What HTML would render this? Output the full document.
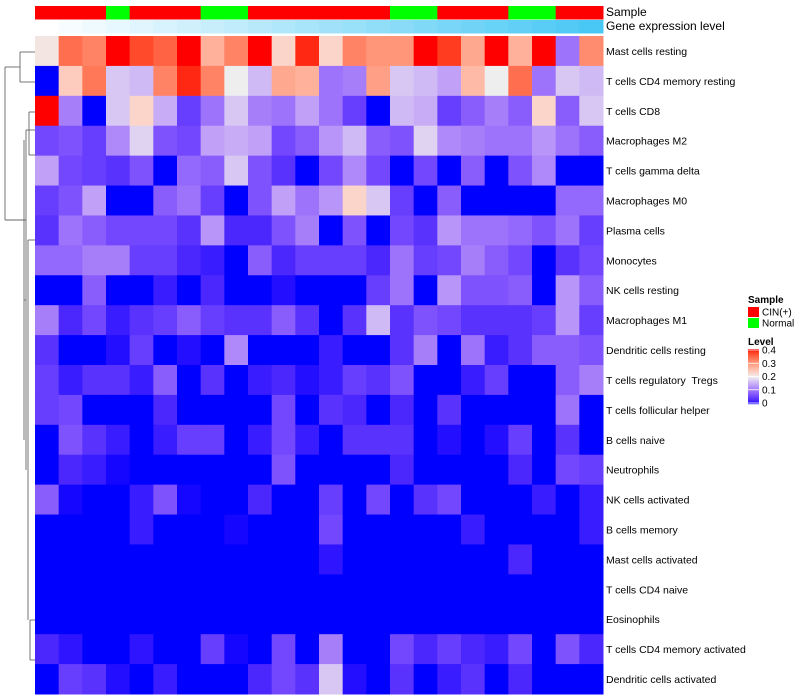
<!DOCTYPE html>
<html><head><meta charset="utf-8"><style>
body{margin:0;background:#fff;font-family:"Liberation Sans",sans-serif;}
svg{display:block}
</style></head><body>
<svg id="chart" width="800" height="700" xmlns="http://www.w3.org/2000/svg"></svg>
<script>
const rowLabels = ["Mast cells resting","T cells CD4 memory resting","T cells CD8","Macrophages M2","T cells gamma delta","Macrophages M0","Plasma cells","Monocytes","NK cells resting","Macrophages M1","Dendritic cells resting","T cells regulatory  Tregs","T cells follicular helper","B cells naive","Neutrophils","NK cells activated","B cells memory","Mast cells activated","T cells CD4 naive","Eosinophils","T cells CD4 memory activated","Dendritic cells activated"];
const sampleGroups = ["CIN","CIN","CIN","Normal","CIN","CIN","CIN","Normal","Normal","CIN","CIN","CIN","CIN","CIN","CIN","Normal","Normal","CIN","CIN","CIN","Normal","Normal","CIN","CIN"];
const geneLevel = [0,1,2,3,4,5,6,7,8,9,10,11,12,13,14,15,16,17,18,19,20,21,22,23];
const values = [
[0.21,0.34,0.32,0.4,0.37,0.35,0.4,0.27,0.32,0.4,0.23,0.39,0.23,0.32,0.3,0.3,0.4,0.38,0.28,0.4,0.27,0.4,0.1,0.31],
[0,0.24,0.33,0.17,0.16,0.32,0.39,0.32,0.2,0.16,0.28,0.27,0.1,0.11,0.29,0.17,0.16,0.14,0.26,0.2,0.34,0.1,0.17,0.16],
[0.4,0.11,0,0.17,0.23,0.15,0.05,0.1,0.17,0.11,0.1,0.14,0.1,0.05,0,0.16,0.15,0.05,0.08,0.11,0.08,0.23,0.08,0.17],
[0.06,0.07,0.05,0.12,0.18,0.07,0.06,0.14,0.15,0.14,0.06,0.08,0.13,0.16,0.08,0.07,0.18,0.12,0.11,0.1,0.1,0.13,0.1,0.08],
[0.14,0.06,0.05,0.04,0.07,0,0.09,0.08,0.17,0.07,0.04,0,0.06,0.12,0.06,0,0.06,0,0.08,0,0.07,0.12,0,0],
[0.05,0.07,0.14,0,0,0.08,0.1,0.05,0,0.07,0.14,0.1,0.13,0.23,0.17,0.05,0,0.08,0,0,0,0,0.09,0.09],
[0.04,0.1,0.08,0.06,0.06,0.06,0.04,0.13,0.03,0.03,0.07,0.11,0,0.07,0,0.06,0.04,0.13,0.1,0.1,0.09,0.07,0.1,0.05],
[0.09,0.09,0.11,0.11,0.05,0.05,0.03,0.02,0,0.08,0.03,0.05,0.05,0.05,0.03,0.1,0.05,0.06,0.11,0.08,0.06,0,0.04,0.06],
[0,0,0.08,0,0,0.02,0,0.03,0,0,0.01,0,0,0,0.05,0.1,0,0.13,0.07,0.07,0.08,0,0.13,0.08],
[0.11,0.03,0.06,0.02,0.04,0.05,0.08,0.05,0.04,0.04,0.08,0.04,0,0.04,0.16,0.04,0.07,0.06,0.04,0.04,0.04,0.05,0.13,0.05],
[0.04,0,0,0.01,0.05,0,0.01,0,0.12,0,0,0,0.02,0,0,0.04,0.11,0,0.1,0.02,0.04,0.08,0.08,0.07],
[0.05,0.02,0.04,0.04,0.02,0.08,0,0.04,0,0.02,0.03,0.01,0.02,0.05,0.04,0.07,0,0,0.02,0.05,0,0,0.08,0.11],
[0.05,0.06,0,0,0,0.03,0,0,0,0,0.06,0,0.04,0.03,0,0.03,0,0.04,0,0,0,0,0.1,0],
[0,0.07,0.04,0.02,0,0.02,0.05,0.05,0,0.02,0.06,0.02,0,0.04,0.04,0.04,0,0.01,0,0.01,0.05,0,0.04,0],
[0,0.03,0.02,0.005,0,0,0,0,0,0,0.07,0,0,0,0,0.03,0,0,0,0,0.03,0,0.06,0.05],
[0.08,0.005,0,0,0.02,0.07,0.005,0,0,0.03,0,0,0.05,0,0.06,0,0.04,0.06,0,0,0,0.02,0,0.02],
[0,0,0,0,0.02,0,0,0,0.005,0,0,0,0.06,0,0,0,0,0,0.02,0,0,0,0,0.02],
[0,0,0,0,0,0,0,0,0,0,0,0,0.015,0,0,0,0,0,0,0,0.03,0,0,0],
[0,0,0,0,0,0,0,0,0,0,0,0,0,0,0,0,0,0,0,0,0,0,0,0],
[0,0,0,0,0,0,0,0,0,0,0,0,0,0,0,0,0,0,0,0,0,0,0,0],
[0.03,0.015,0,0,0.015,0,0,0.05,0.005,0,0.06,0,0.11,0,0,0.06,0.03,0.05,0.03,0.02,0.06,0,0.07,0.03],
[0,0.05,0.04,0.01,0,0.02,0,0,0,0.03,0.06,0.04,0.17,0.01,0,0.04,0,0.02,0.04,0,0.03,0,0,0]
];
const legendTicks = [0,0.1,0.2,0.3,0.4];

const svg = document.getElementById('chart');
const NS = 'http://www.w3.org/2000/svg';
const X0 = 35, X1 = 603, Y0 = 36, Y1 = 694;
const nC = values[0].length, nR = values.length;
const cw = (X1 - X0) / nC, rh = (Y1 - Y0) / nR;
const xPos = c => X0 + c * cw;
const yPos = r => Y0 + r * rh;

function toLin(c){c/=255;return c<=0.04045?c/12.92:Math.pow((c+0.055)/1.055,2.4);}
function fromLin(c){c=c<=0.0031308?12.92*c:1.055*Math.pow(c,1/2.4)-0.055;return Math.max(0,Math.min(255,Math.round(c*255)));}
function rgb2lab(r,g,b){r=toLin(r);g=toLin(g);b=toLin(b);
 let x=(r*0.4124+g*0.3576+b*0.1805)/0.95047,y=r*0.2126+g*0.7152+b*0.0722,z=(r*0.0193+g*0.1192+b*0.9505)/1.08883;
 const f=t=>t>0.008856?Math.cbrt(t):7.787*t+16/116;
 x=f(x);y=f(y);z=f(z);return [116*y-16,500*(x-y),200*(y-z)];}
function lab2rgb(L,a,b){let y=(L+16)/116,x=a/500+y,z=y-b/200;
 const fi=t=>t*t*t>0.008856?t*t*t:(t-16/116)/7.787;
 x=fi(x)*0.95047;y=fi(y);z=fi(z)*1.08883;
 const r=x*3.2406+y*-1.5372+z*-0.4986,g=x*-0.9689+y*1.8758+z*0.0415,bb=x*0.0557+y*-0.2040+z*1.0570;
 return `rgb(${fromLin(r)},${fromLin(g)},${fromLin(bb)})`;}
const cBlue=rgb2lab(0,0,255), cWhite=rgb2lab(238,238,238), cRed=rgb2lab(255,0,0);
function colorOf(v){
 v=Math.max(0,Math.min(0.4,v));
 let a,b,t;
 if(v<=0.2){a=cBlue;b=cWhite;t=Math.pow(v/0.2,1.25);}else{a=cWhite;b=cRed;t=(v-0.2)/0.2;}
 return lab2rgb(a[0]+(b[0]-a[0])*t,a[1]+(b[1]-a[1])*t,a[2]+(b[2]-a[2])*t);
}
function el(tag, attrs){const e=document.createElementNS(NS,tag);for(const k in attrs)e.setAttribute(k,attrs[k]);svg.appendChild(e);return e;}

values.forEach((row,r)=>row.forEach((v,c)=>{
 const e=el('rect',{x:xPos(c),y:yPos(r),width:cw+0.5,height:rh+0.5,fill:colorOf(v)});
 
 
}));
sampleGroups.forEach((g,c)=>{
 const e=el('rect',{x:xPos(c),y:6,width:cw+0.5,height:13.5,fill:g==='CIN'?'#ff0000':'#00ff00'});
 
 
});
const gmax=Math.max(...geneLevel);
geneLevel.forEach((g,c)=>{
 const t=g/gmax;
 const col=`rgb(${Math.round(255-t*(255-74))},${Math.round(255-t*(255-200))},${Math.round(255-t*(255-245))})`;
 const e=el('rect',{x:xPos(c),y:20,width:cw+0.5,height:13.5,fill:col});
 
 
});
rowLabels.forEach((l,r)=>{
 const t=el('text',{x:606,y:yPos(r)+rh/2+4,'font-size':'10.5',fill:'#000',style:'white-space:pre'});
 t.textContent=l;
 
 
});
[['Sample',16],['Gene expression level',30]].forEach(([s,y])=>{
 const t=el('text',{x:606,y:y,'font-size':'12',fill:'#000'});t.textContent=s;
 
 
});
const dend=[
 [20,52,20,82],[20,52,35,52],[20,82,35,82],
 [5,67,20,67],[5,67,5,220],[5,220,26,220],
 [26,130,26,470],[26,130,35,130],
 [29,112,29,155],[29,112,35,112],[29,155,35,155],
 [24,140,24,440],[24,300,26,300],
 [28,240,28,620],[28,240,35,240],[30,620,30,660],[30,620,35,620],[30,660,35,660]
];
dend.forEach(d=>{
 const e=el('line',{x1:d[0],y1:d[1],x2:d[2],y2:d[3],stroke:'#666','stroke-width':0.9});
 
 
});
const lt=el('text',{x:748,y:303,'font-size':'10','font-weight':'bold'});lt.textContent='Sample';

[['#ff0000','CIN(+)',307],['#00ff00','Normal',318]].forEach(([c,s,y])=>{
 const r=el('rect',{x:748,y:y,width:11,height:10,fill:c});
 
 const t=el('text',{x:762,y:y+8.5,'font-size':'10'});t.textContent=s;
 
});
const lv=el('text',{x:748,y:345,'font-size':'10','font-weight':'bold'});lv.textContent='Level';

const LB0=349, LB1=404;
for(let i=0;i<55;i++){
 const v=0.4-0.4*i/55;
 const r=el('rect',{x:748,y:LB0+i,width:11,height:1.2,fill:colorOf(v)});
 
}
legendTicks.forEach(v=>{
 const y=LB1-(v/0.4)*(LB1-LB0-2)-1;
 const ln=el('line',{x1:748,x2:759,y1:y,y2:y,stroke:'#fff','stroke-width':0.8});
 
 const t=el('text',{x:762,y:y+3.5,'font-size':'10'});t.textContent=String(v);
 
});
</script>
</body></html>
